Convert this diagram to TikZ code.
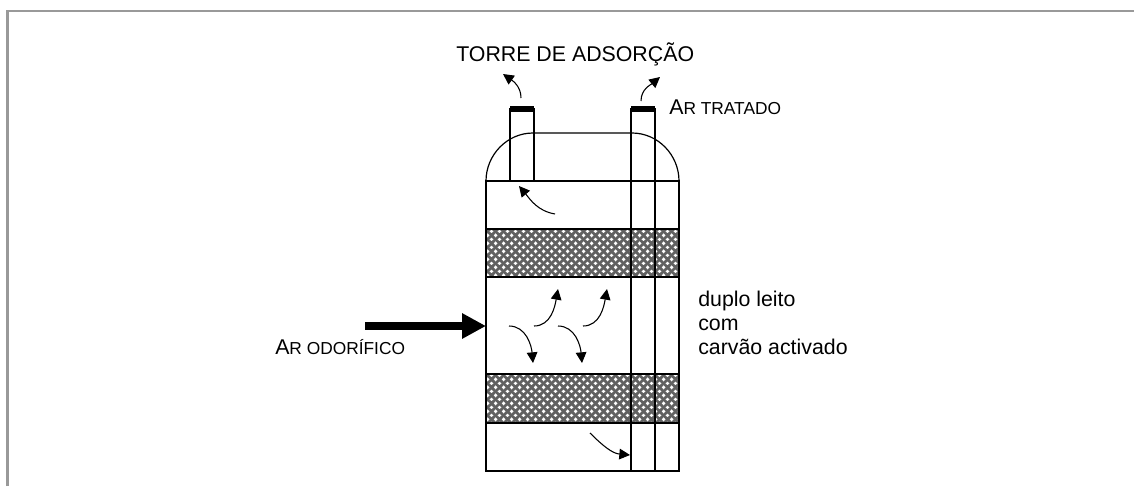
\documentclass[tikz,border=0pt]{standalone}
\usepackage{fontspec}
\setmainfont{Liberation Sans}
\usepackage{tikz}
\usetikzlibrary{arrows.meta}
\usetikzlibrary{patterns}
\pgfdeclarepatternformonly{bedhatch}{\pgfqpoint{0pt}{0pt}}{\pgfqpoint{6pt}{6pt}}{\pgfqpoint{6pt}{6pt}}{
  \pgfsetlinewidth{2.3pt}
  \pgfpathmoveto{\pgfqpoint{-3pt}{-3pt}}\pgfpathlineto{\pgfqpoint{9pt}{9pt}}
  \pgfpathmoveto{\pgfqpoint{-3pt}{9pt}}\pgfpathlineto{\pgfqpoint{9pt}{-3pt}}
  \pgfusepath{stroke}
}
\tikzset{
  wall/.style={line width=1.3pt},
  flow/.style={line width=0.8pt,-{Triangle[length=8pt,width=8pt]}},
  label/.style={inner sep=0pt,anchor=base west,font=\fontsize{16}{18}\selectfont},
  bed/.style={fill=white,postaction={pattern=bedhatch,pattern color=black!62}}
}
\begin{document}
\begin{tikzpicture}[x=0.75pt,y=-0.75pt]
            \useasboundingbox (0,0) rectangle (1134,486);
            \draw[line width=2.2pt,black!40](7.5,486)--(7.5,11)--(1134,11);

            \fill[bed](486,229) rectangle (679,277);
            \fill[bed](486,374) rectangle (679,423);

            \draw[wall](486,181) rectangle (679,471);
            \draw[wall](486,229)--(679,229);
            \draw[wall](486,277)--(679,277);
            \draw[wall](486,374)--(679,374);
            \draw[wall](486,423)--(679,423);
            \draw[line width=0.9pt](486,181) .. controls (486,155) and (507,133) .. (533,133)--(632,133) .. controls (658,133) and (679,155) .. (679,181);

            \draw[wall](510,181)--(510,108);
            \draw[wall](534,181)--(534,108);
            \draw[wall](631,471)--(631,108);
            \draw[wall](655,471)--(655,108);
            \fill(510,106) rectangle (534,112);
            \fill(631,106) rectangle (655,112);

            \coordinate (in) at (365,326);
            \coordinate (wall) at (486,326);
            \draw[line width=6pt,-{Triangle[length=18pt,width=18pt]}](in)--(wall);

            \draw[flow](521,98) to[out=90,in=-35] (503,74);
            \draw[flow](641,101) to[out=90,in=220] (660,77);
            \draw[flow](555,214) to[out=170,in=-50] (519,186);
            \foreach \dx in {0,49}{
                \draw[flow](509+\dx,326) to[out=0,in=95] (533+\dx,363);
                \draw[flow](534+\dx,326) to[out=0,in=-100] (558+\dx,289);
            }
            \draw[flow](590,433) to[out=-45,in=175] (630,455);

            \node[label](title) at (456,61) {TORRE DE ADSORÇÃO};
            \node[label](treated) at (669,114) {A{\fontsize{13}{15}\selectfont R TRATADO}};
            \node[label](odor) at (275,354) {A{\fontsize{13}{15}\selectfont R ODORÍFICO}};
            \node[label](bedtop) at (698,306) {duplo leito};
            \node[label](bedmid) at (698,330) {com};
            \node[label](bedlow) at (698,354) {carvão activado};
\end{tikzpicture}
\end{document}
